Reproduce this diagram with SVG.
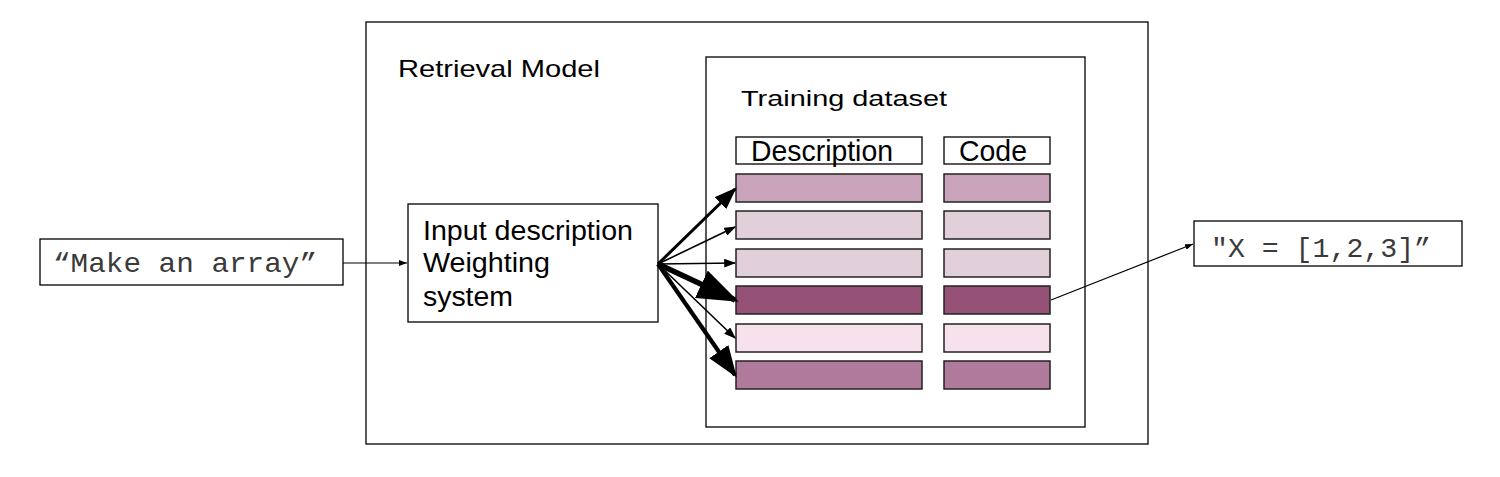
<svg xmlns="http://www.w3.org/2000/svg" width="1500" height="477" viewBox="0 0 1500 477">
<style>
.box{fill:#fff;stroke:#000;stroke-width:1.3}
.row{stroke:#222;stroke-width:1.5}
.t{font-family:"Liberation Sans",Arial,sans-serif;fill:#000}
.m{font-family:"Liberation Mono","Courier New",monospace;font-size:28px;fill:#3a3a3a}
.c{stroke:#000;fill:none}
</style>
<defs>
<marker id="ah" viewBox="0 0 10 10" refX="9" refY="5" markerWidth="7.5" markerHeight="5.5" markerUnits="strokeWidth" orient="auto" preserveAspectRatio="none"><path d="M0,0L10,5L0,10z" fill="#000"/></marker>
<marker id="ahs" viewBox="0 0 10 10" refX="10" refY="5" markerWidth="8" markerHeight="6" markerUnits="userSpaceOnUse" orient="auto" preserveAspectRatio="none"><path d="M0,0L10,5L0,10z" fill="#000"/></marker>
</defs>
<g id="retrieval-model"><rect class="box" x="366" y="22" width="782" height="422"/><text class="t" x="398" y="77" font-size="24" textLength="202" lengthAdjust="spacingAndGlyphs">Retrieval Model</text></g>
<g id="training-dataset"><rect class="box" x="706" y="57" width="379" height="370"/><text class="t" x="741" y="106" font-size="22" textLength="206" lengthAdjust="spacingAndGlyphs">Training dataset</text></g>
<g id="header-description"><rect class="box" x="736" y="137" width="186" height="27"/><text class="t" x="751" y="161" font-size="29" textLength="142" lengthAdjust="spacingAndGlyphs">Description</text></g>
<g id="header-code"><rect class="box" x="944" y="137" width="106" height="27"/><text class="t" x="959" y="161" font-size="29" textLength="68" lengthAdjust="spacingAndGlyphs">Code</text></g>
<g id="row1"><rect class="row" x="736" y="174" width="186" height="28" fill="#c9a3ba"/><rect class="row" x="944" y="174" width="106" height="28" fill="#c9a3ba"/></g>
<g id="row2"><rect class="row" x="736" y="211" width="186" height="28" fill="#e1d0da"/><rect class="row" x="944" y="211" width="106" height="28" fill="#e1d0da"/></g>
<g id="row3"><rect class="row" x="736" y="249" width="186" height="28" fill="#e1d0da"/><rect class="row" x="944" y="249" width="106" height="28" fill="#e1d0da"/></g>
<g id="row4"><rect class="row" x="736" y="286" width="186" height="28" fill="#955075"/><rect class="row" x="944" y="286" width="106" height="28" fill="#955075"/></g>
<g id="row5"><rect class="row" x="736" y="324" width="186" height="28" fill="#f6e1ec"/><rect class="row" x="944" y="324" width="106" height="28" fill="#f6e1ec"/></g>
<g id="row6"><rect class="row" x="736" y="361" width="186" height="28" fill="#b07b9b"/><rect class="row" x="944" y="361" width="106" height="28" fill="#b07b9b"/></g>
<g id="input-description"><rect class="box" x="408" y="204" width="250" height="118"/>
<text class="t" x="423" y="240" font-size="27" textLength="210" lengthAdjust="spacingAndGlyphs">Input description</text>
<text class="t" x="423" y="272" font-size="27" textLength="127" lengthAdjust="spacingAndGlyphs">Weighting</text>
<text class="t" x="423" y="306" font-size="27" textLength="90" lengthAdjust="spacingAndGlyphs">system</text></g>
<g id="query"><rect class="box" x="40" y="239" width="303" height="46"/><text class="m" x="53" y="272" textLength="264" lengthAdjust="spacingAndGlyphs">“Make an array”</text></g>
<g id="output"><rect class="box" x="1194" y="221" width="268" height="45"/><text class="m" x="1211" y="257" textLength="220" lengthAdjust="spacingAndGlyphs">"X = [1,2,3]”</text></g>
<g id="connectors">
<line class="c" x1="343" y1="263" x2="407" y2="263" stroke-width="1.2" marker-end="url(#ahs)"/>
<line class="c" x1="658" y1="264" x2="735" y2="189" stroke-width="3" marker-end="url(#ah)"/>
<line class="c" x1="658" y1="264" x2="735" y2="227" stroke-width="1.6" marker-end="url(#ah)"/>
<line class="c" x1="658" y1="264" x2="735" y2="263" stroke-width="1.6" marker-end="url(#ah)"/>
<line class="c" x1="658" y1="264" x2="735" y2="300" stroke-width="5.5" marker-end="url(#ah)"/>
<line class="c" x1="658" y1="264" x2="735" y2="338" stroke-width="1.6" marker-end="url(#ah)"/>
<line class="c" x1="658" y1="264" x2="735" y2="375" stroke-width="4.2" marker-end="url(#ah)"/>
<line class="c" x1="1051" y1="300" x2="1193" y2="244" stroke-width="1.2" marker-end="url(#ahs)"/>
</g>
</svg>
